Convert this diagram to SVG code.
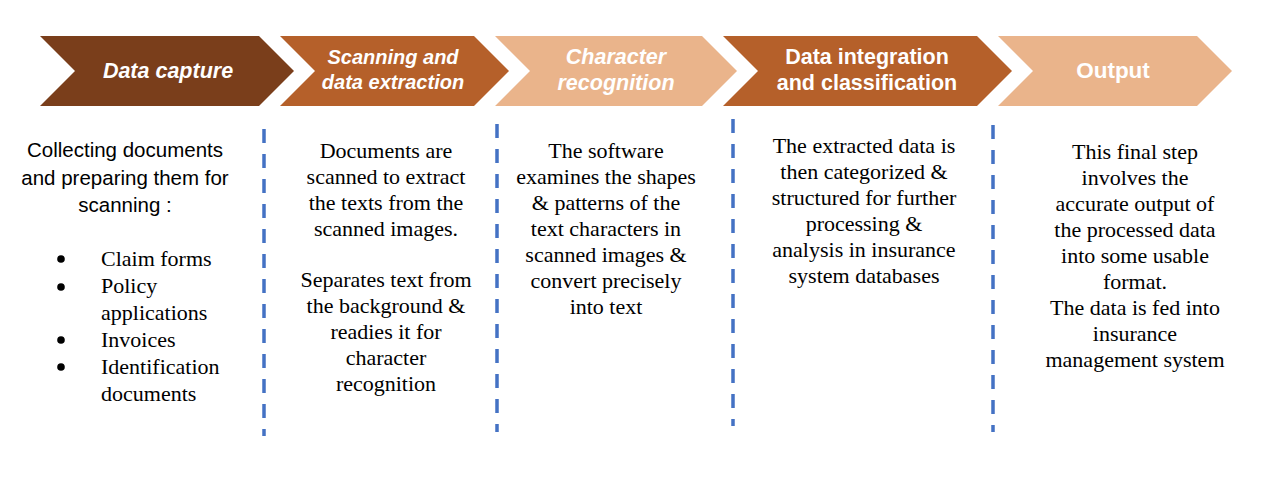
<svg xmlns="http://www.w3.org/2000/svg" width="1278" height="488" viewBox="0 0 1278 488">
<style>
.dark{fill:#7A3E1B}
.mid{fill:#B5602A}
.light{fill:#EAB48B}
.ht{font-family:"Liberation Sans",Arial,sans-serif;font-weight:bold;font-size:21.5px;fill:#ffffff;text-anchor:middle}
.it{font-style:italic}
.sans{font-family:"Liberation Sans",Arial,sans-serif;font-size:20.5px;fill:#000000;text-anchor:middle}
.serif{font-family:"Liberation Serif","Times New Roman",serif;font-size:22px;fill:#000000;text-anchor:middle}
.left{text-anchor:start}
.dash{stroke:#4472C4;stroke-width:3.5;stroke-dasharray:14 11;fill:none}
</style>
<rect width="1278" height="488" fill="#ffffff"/>
<g id="step1">
<polygon class="dark" points="40,36 259,36 294,71 259,106 40,106 75,71"/>
<text class="ht it" x="168" y="78">Data capture</text>
</g>
<g id="step2">
<polygon class="mid" points="280,36 474,36 509,71 474,106 280,106 315,71"/>
<text class="ht it" x="393" y="64" style="font-size:20px">Scanning and</text>
<text class="ht it" x="393" y="89" style="font-size:20px">data extraction</text>
</g>
<g id="step3">
<polygon class="light" points="495,36 702,36 737,71 702,106 495,106 530,71"/>
<text class="ht it" x="616" y="64">Character</text>
<text class="ht it" x="616" y="90">recognition</text>
</g>
<g id="step4">
<polygon class="mid" points="723,36 977,36 1012,71 977,106 723,106 758,71"/>
<text class="ht" x="867" y="64">Data integration</text>
<text class="ht" x="867" y="90">and classification</text>
</g>
<g id="step5">
<polygon class="light" points="998,36 1197,36 1232,71 1197,106 998,106 1033,71"/>
<text class="ht" x="1113" y="78" style="font-size:22.5px">Output</text>
</g>
<g id="connectors">
<line class="dash" x1="264" y1="129" x2="264" y2="436"/>
<line class="dash" x1="497" y1="124" x2="497" y2="432"/>
<line class="dash" x1="733" y1="119" x2="733" y2="426"/>
<line class="dash" x1="993" y1="125" x2="993" y2="432"/>
</g>
<g id="desc1">
<text class="sans" x="125" y="157">Collecting documents</text>
<text class="sans" x="125" y="185">and preparing them for</text>
<text class="sans" x="125" y="212">scanning :</text>
<circle cx="61" cy="259" r="3.8" fill="#000"/>
<circle cx="61" cy="287" r="3.8" fill="#000"/>
<circle cx="61" cy="340" r="3.8" fill="#000"/>
<circle cx="61" cy="367" r="3.8" fill="#000"/>
<text class="serif left" x="101" y="266">Claim forms</text>
<text class="serif left" x="101" y="293">Policy</text>
<text class="serif left" x="101" y="320">applications</text>
<text class="serif left" x="101" y="347">Invoices</text>
<text class="serif left" x="101" y="374">Identification</text>
<text class="serif left" x="101" y="401">documents</text>
</g>
<g id="desc2">
<text class="serif" x="386" y="158">Documents are</text>
<text class="serif" x="386" y="184">scanned to extract</text>
<text class="serif" x="386" y="210">the texts from the</text>
<text class="serif" x="386" y="236">scanned images.</text>
<text class="serif" x="386" y="287">Separates text from</text>
<text class="serif" x="386" y="313">the background &amp;</text>
<text class="serif" x="386" y="339">readies it for</text>
<text class="serif" x="386" y="365">character</text>
<text class="serif" x="386" y="391">recognition</text>
</g>
<g id="desc3">
<text class="serif" x="606" y="158">The software</text>
<text class="serif" x="606" y="184">examines the shapes</text>
<text class="serif" x="606" y="210">&amp; patterns of the</text>
<text class="serif" x="606" y="236">text characters in</text>
<text class="serif" x="606" y="262">scanned images &amp;</text>
<text class="serif" x="606" y="288">convert precisely</text>
<text class="serif" x="606" y="314">into text</text>
</g>
<g id="desc4">
<text class="serif" x="864" y="153">The extracted data is</text>
<text class="serif" x="864" y="179">then categorized &amp;</text>
<text class="serif" x="864" y="205">structured for further</text>
<text class="serif" x="864" y="231">processing &amp;</text>
<text class="serif" x="864" y="257">analysis in insurance</text>
<text class="serif" x="864" y="283">system databases</text>
</g>
<g id="desc5">
<text class="serif" x="1135" y="159">This final step</text>
<text class="serif" x="1135" y="185">involves the</text>
<text class="serif" x="1135" y="211">accurate output of</text>
<text class="serif" x="1135" y="237">the processed data</text>
<text class="serif" x="1135" y="263">into some usable</text>
<text class="serif" x="1135" y="289">format.</text>
<text class="serif" x="1135" y="315">The data is fed into</text>
<text class="serif" x="1135" y="341">insurance</text>
<text class="serif" x="1135" y="367">management system</text>
</g>
</svg>
